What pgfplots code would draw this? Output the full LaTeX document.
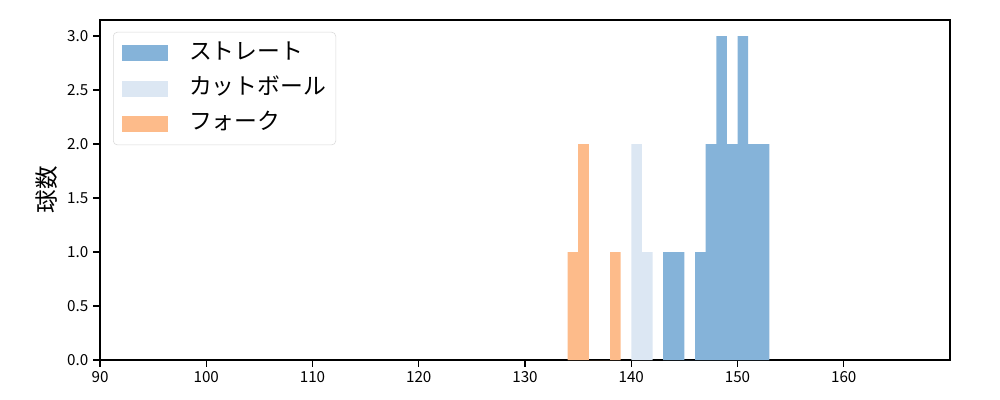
\documentclass[border=0pt]{standalone}
\usepackage{pgfplots}
\pgfplotsset{compat=1.18}
\usepackage{fontspec}
\setmainfont{Noto Sans CJK JP}

\definecolor{cstraight}{HTML}{85B3D9}
\definecolor{ccut}{HTML}{DCE7F3}
\definecolor{cfork}{HTML}{FDBB8A}

\begin{document}
\begin{tikzpicture}
\begin{axis}[
  scale only axis,
  width=8.5in,
  height=3.4in,
  xmin=90, xmax=170,
  ymin=0, ymax=3.15,
  xtick={90,100,110,120,130,140,150,160},
  ytick={0,0.5,1,1.5,2,2.5,3},
  yticklabel style={/pgf/number format/.cd, fixed, fixed zerofill, precision=1},
  /pgf/number format/assume math mode=true,
  tick label style={font=\fontsize{11}{13}\selectfont},
  tick align=outside,
  tick pos=left,
  major tick length=4.9pt,
  axis line style={line width=1pt},
  every tick/.style={line width=1pt, black},
  ylabel={球数},
  ylabel style={font=\fontsize{17}{20}\selectfont},
  legend cell align=left,
  legend image code/.code={\fill[#1, sharp corners] (0pt,-5.75pt) rectangle (33.8pt,5.75pt);},
  legend style={
    at={(0.0153,0.965)}, anchor=north west,
    draw=black!15, rounded corners=3pt,
    inner xsep=6pt, inner ysep=7pt,
    font=\fontsize{16.5}{19}\selectfont,
    row sep=9pt,
    nodes={inner sep=1pt, text height=11.5pt, text depth=3pt},
    /tikz/every odd column/.append style={column sep=14pt},
  },
]
%% ストレート
\addplot[const plot, fill=cstraight, draw=none]
  coordinates {(143,1)(145,0)(146,1)(147,2)(148,3)(149,2)(150,3)(151,2)(153,0)} \closedcycle;
\addlegendentry{ストレート}
%% カットボール
\addplot[const plot, fill=ccut, draw=none]
  coordinates {(140,2)(141,1)(142,0)} \closedcycle;
\addlegendentry{カットボール}
%% フォーク
\addplot[const plot, fill=cfork, draw=none]
  coordinates {(134,1)(135,2)(136,0)(138,1)(139,0)} \closedcycle;
\addlegendentry{フォーク}
\end{axis}
\path ([xshift=-1in,yshift=-0.4in]current axis.south west) rectangle ([xshift=0.5in,yshift=0.2in]current axis.north east);
\end{tikzpicture}
\end{document}
